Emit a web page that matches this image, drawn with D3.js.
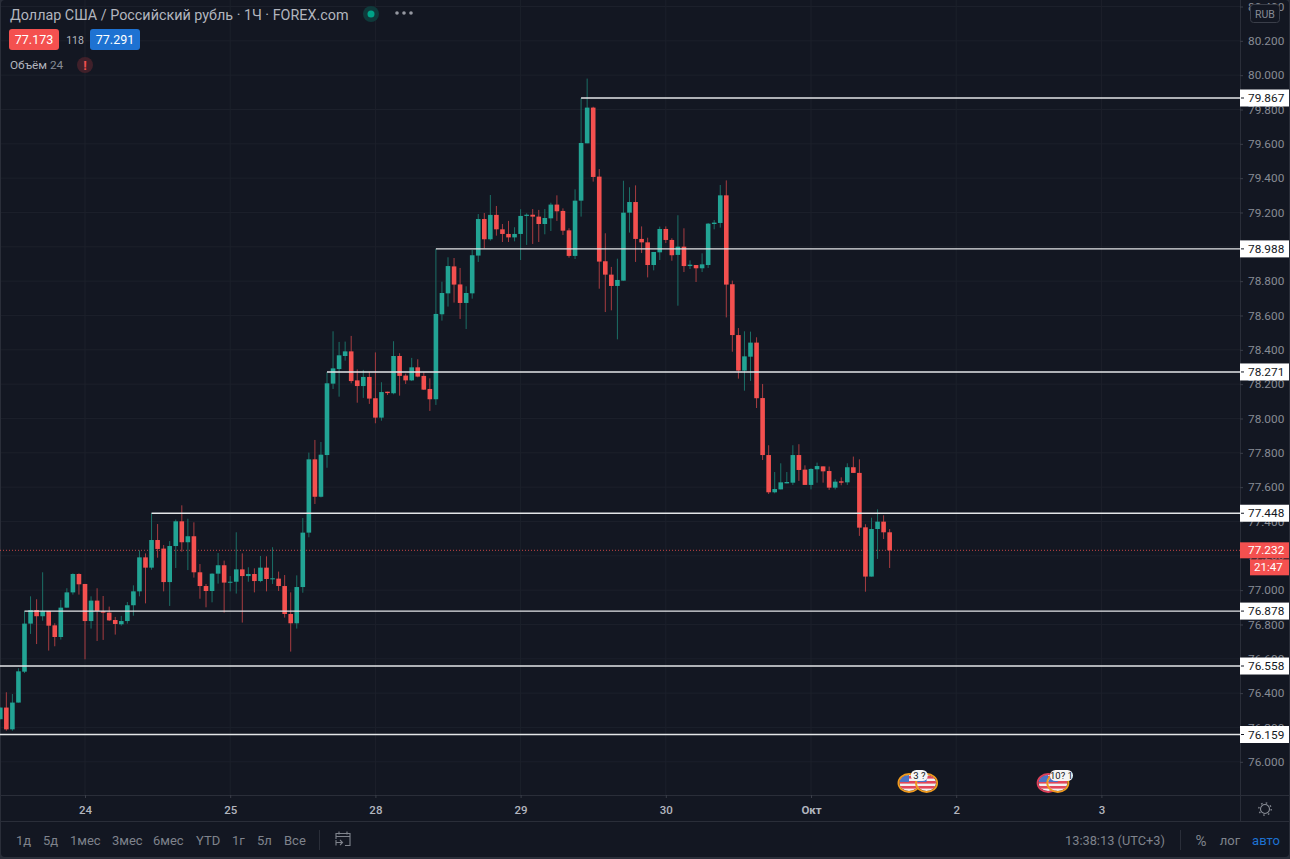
<!DOCTYPE html>
<html lang="ru">
<head>
<meta charset="utf-8">
<title>USD/RUB 1H</title>
<script src="https://cdn.jsdelivr.net/npm/d3@7/dist/d3.min.js"></script>
<style>
html,body{margin:0;padding:0;background:#2a2e39;overflow:hidden}
svg{display:block}
text{font-family:Roboto,"Noto Sans",sans-serif}
</style>
</head>
<body>
<svg id="chart" width="1290" height="859"></svg>
<script>
// Hourly candles, oldest first; the first bar sits 14 hours before the "24" session tick.
const firstBar = -14;
const opens = [
76.248,76.316,76.189,76.345,76.525,76.805,76.884,76.848,76.879,76.795,76.727,76.898,76.987,77.094,
77.036,76.820,76.939,76.877,76.869,76.826,76.801,76.820,76.912,76.993,77.191,77.131,77.292,77.242,
77.047,77.257,77.401,77.279,77.314,77.104,77.024,76.995,77.096,77.145,77.044,77.049,77.121,77.082,
77.094,77.053,77.131,77.063,77.067,77.024,76.861,76.807,77.018,77.335,77.762,77.544,77.787,78.203,
78.288,78.364,78.391,78.222,78.189,78.242,78.118,78.005,78.156,78.147,78.364,78.250,78.222,78.298,
78.248,78.172,78.112,78.607,78.729,78.886,78.781,78.673,78.729,78.949,79.162,79.044,79.186,79.102,
79.075,79.055,79.075,79.180,79.187,79.176,79.133,79.166,79.246,79.209,79.096,78.947,79.269,79.603,
79.811,79.409,78.916,78.838,78.772,78.803,79.199,79.261,79.046,79.026,78.894,78.968,79.104,79.040,
78.953,79.001,78.888,78.894,78.875,78.894,79.133,79.139,79.300,78.782,78.486,78.279,78.360,78.442,
78.119,77.787,77.570,77.587,77.622,77.626,77.787,77.702,77.613,77.704,77.721,77.694,77.597,77.634,
77.628,77.716,77.683,77.366,77.079,77.356,77.399,77.337];
const closes = [
76.316,76.189,76.345,76.527,76.805,76.884,76.848,76.879,76.793,76.727,76.898,76.987,77.094,77.034,
76.820,76.939,76.879,76.869,76.824,76.803,76.820,76.912,76.993,77.191,77.131,77.292,77.240,77.047,
77.257,77.401,77.279,77.314,77.104,77.024,76.995,77.096,77.145,77.044,77.049,77.121,77.082,77.094,
77.053,77.131,77.065,77.069,77.024,76.861,76.807,77.018,77.335,77.762,77.544,77.789,78.205,78.292,
78.368,78.391,78.218,78.189,78.242,78.116,78.005,78.154,78.148,78.364,78.248,78.222,78.298,78.244,
78.168,78.112,78.609,78.731,78.888,78.780,78.673,78.731,78.951,79.162,79.044,79.186,79.102,79.075,
79.055,79.075,79.180,79.187,79.176,79.133,79.168,79.246,79.207,79.094,78.947,79.269,79.605,79.811,
79.407,78.914,78.838,78.772,78.807,79.199,79.261,79.046,79.026,78.894,78.970,79.104,79.040,78.951,
79.001,78.888,78.896,78.875,78.898,79.135,79.141,79.300,78.780,78.486,78.279,78.362,78.442,78.118,
77.787,77.570,77.589,77.628,77.630,77.787,77.700,77.613,77.706,77.723,77.692,77.597,77.632,77.626,
77.716,77.683,77.364,77.079,77.356,77.399,77.337,77.232];
const highs = [
76.316,76.405,76.395,76.545,76.878,76.964,76.947,77.104,76.879,76.807,76.943,77.011,77.098,77.098,
77.036,76.964,77.011,76.966,76.904,76.844,76.850,76.931,77.028,77.232,77.214,77.448,77.385,77.263,
77.286,77.411,77.494,77.416,77.395,77.152,77.036,77.098,77.216,77.172,77.082,77.337,77.214,77.133,
77.127,77.199,77.197,77.250,77.108,77.088,76.987,77.086,77.420,77.801,77.875,77.863,78.271,78.508,
78.446,78.448,78.481,78.286,78.283,78.271,78.385,78.211,78.156,78.450,78.380,78.261,78.353,78.345,
78.269,78.234,78.988,78.797,78.939,78.935,78.877,78.770,78.982,79.191,79.197,79.302,79.238,79.133,
79.151,79.114,79.219,79.195,79.220,79.215,79.220,79.257,79.300,79.224,79.108,79.335,79.867,79.980,
79.816,79.453,79.079,78.883,78.931,79.385,79.347,79.358,79.119,79.053,78.970,79.118,79.119,79.050,
79.184,79.108,78.921,78.894,78.962,79.139,79.156,79.360,79.387,78.803,78.527,78.508,78.506,78.473,
78.201,77.844,77.688,77.739,77.688,77.844,77.850,77.727,77.710,77.743,77.721,77.720,77.646,77.657,
77.739,77.778,77.762,77.384,77.422,77.471,77.436,77.356];
const lows = [
76.248,76.181,76.181,76.345,76.517,76.745,76.686,76.822,76.648,76.673,76.712,76.898,76.974,76.974,
76.597,76.776,76.704,76.710,76.820,76.741,76.793,76.805,76.851,76.964,76.923,77.119,77.189,76.993,
76.908,77.129,77.224,77.117,77.073,76.950,76.900,76.929,77.038,76.869,76.993,76.980,76.811,77.049,
76.987,77.046,76.993,77.036,76.995,76.840,76.642,76.776,76.985,77.308,77.502,77.540,77.713,78.172,
78.127,78.337,78.205,78.092,78.120,78.085,77.972,77.987,78.137,78.141,78.133,78.201,78.218,78.240,
78.166,78.044,78.079,78.570,78.652,78.675,78.580,78.521,78.698,78.912,78.991,79.036,79.065,79.028,
79.028,79.032,78.923,79.011,79.017,79.028,79.073,79.092,79.151,79.069,78.937,78.929,79.176,79.603,
79.380,78.756,78.620,78.630,78.461,78.803,79.083,78.912,78.964,78.822,78.863,78.923,79.022,78.919,
78.657,78.853,78.871,78.795,78.853,78.877,79.102,79.112,78.589,78.389,78.232,78.162,78.219,78.061,
77.758,77.560,77.564,77.587,77.622,77.613,77.636,77.613,77.587,77.626,77.626,77.584,77.587,77.611,
77.613,77.683,77.316,76.991,77.079,77.182,77.298,77.129];

// Support and resistance levels drawn by hand; null start means the line runs from the left edge.
const levelPrices = [79.867, 78.988, 78.271, 77.448, 76.878, 76.558, 76.159];
const levelStartBars = [82, 58, 40, 11, -10, null, null];
const lastPrice = 77.232;

const priceTicks = [76,76.2,76.4,76.6,76.8,77,77.2,77.4,77.6,77.8,78,78.2,78.4,78.6,78.8,79,79.2,79.4,79.6,79.8,80,80.2,80.4];
const dayTickBars = [0,24,48,72,96,120,144,168];
const dayTickLabels = ["24","25","28","29","30","Окт","2","3"];
const rangeButtons = ["1д","5д","1мес","3мес","6мес","YTD","1г","5л","Все"];
const rangeButtonX = [16,43,70,112,153,196,232,257,284];

// Economic calendar markers under the candles.
const eventBars = [136.2, 139.1, 159.2, 160.8];
const eventRings = ["#f09a1e","#f09a1e","#e0405a","#f09a1e"];
const eventBubbles = [{bar:137.9,text:"3 ?"},{bar:161.4,text:"10? 1"}];

const C = {bg:"#131722",grid:"#1c202b",rule:"#2a2e39",axis:"#878b94",label:"#b2b5be",foot:"#7f838c",
           up:"#22a494",down:"#f4504f",upWick:"#1b6f66",downWick:"#a73c40",blue:"#1e72d2"};

const plotW = 1240, plotH = 795, footH = 821;
const svg = d3.select("#chart");

const x = d3.scaleLinear().domain([0,24]).range([85,230.2]);
const y = d3.scaleLinear().domain([76,80]).range([761.8,75.17]);

svg.append("rect").attr("x",1).attr("y",0).attr("width",1288).attr("height",857).attr("rx",4).attr("fill",C.bg);

svg.append("defs").append("clipPath").attr("id","plot")
  .append("rect").attr("width",plotW).attr("height",plotH);

// Grid
const grid = svg.append("g");
grid.selectAll("line.h").data(priceTicks).join("line").attr("class","h")
  .attr("x1",1).attr("x2",plotW).attr("y1",d=>y(d)).attr("y2",d=>y(d)).attr("stroke",C.grid);
grid.selectAll("line.v").data(dayTickBars).join("line").attr("class","v")
  .attr("x1",d=>x(d)).attr("x2",d=>x(d)).attr("y1",0).attr("y2",plotH).attr("stroke",C.grid);

// Frame rules
svg.append("line").attr("x1",plotW+.5).attr("x2",plotW+.5).attr("y1",0).attr("y2",footH).attr("stroke",C.rule);
svg.append("line").attr("x1",1).attr("x2",1289).attr("y1",plotH+.5).attr("y2",plotH+.5).attr("stroke",C.rule);
svg.append("line").attr("x1",1).attr("x2",1289).attr("y1",footH+.5).attr("y2",footH+.5).attr("stroke",C.rule);

// Price axis
const yAxis = d3.axisRight(y).tickValues(priceTicks).tickFormat(d3.format(".3f")).tickSize(3).tickPadding(5);
const yg = svg.append("g").attr("transform",`translate(${plotW},0)`).call(yAxis);
yg.select(".domain").remove();
yg.selectAll("line").attr("stroke","#3a3e49");
yg.selectAll("text").attr("fill",C.axis).attr("font-size",11.8);

// Time axis
const xAxis = d3.axisBottom(x).tickValues(dayTickBars)
  .tickFormat((d,i)=>dayTickLabels[i]).tickSize(3).tickPadding(8);
const xg = svg.append("g").attr("transform",`translate(0,${plotH})`).call(xAxis);
xg.select(".domain").remove();
xg.selectAll("line").attr("stroke","#3a3e49");
xg.selectAll("text").attr("fill",C.label).attr("font-size",11.5).attr("font-weight",(d,i)=>dayTickLabels[i]==="Окт"?700:500);

// Candles
const bars = d3.range(opens.length).map(i=>({bar:firstBar+i,o:opens[i],h:highs[i],l:lows[i],c:closes[i]}));
const plot = svg.append("g").attr("clip-path","url(#plot)");
plot.append("line").attr("x1",0).attr("x2",plotW).attr("y1",y(lastPrice)).attr("y2",y(lastPrice))
  .attr("stroke",C.down).attr("stroke-opacity",.8).attr("stroke-dasharray","1 2");
const candle = plot.selectAll("g.c").data(bars).join("g").attr("class","c");
candle.append("line")
  .attr("x1",d=>x(d.bar)).attr("x2",d=>x(d.bar)).attr("y1",d=>y(d.h)).attr("y2",d=>y(d.l))
  .attr("stroke",d=>d.c<d.o?C.downWick:C.upWick);
candle.append("rect")
  .attr("x",d=>x(d.bar)-2.3).attr("width",4.6)
  .attr("y",d=>y(Math.max(d.o,d.c)))
  .attr("height",d=>Math.max(1,Math.abs(y(d.o)-y(d.c))))
  .attr("fill",d=>d.c<d.o?C.down:C.up);

// Level lines
plot.selectAll("line.level").data(levelPrices).join("line").attr("class","level")
  .attr("x1",(d,i)=>levelStartBars[i]===null?0:x(levelStartBars[i]))
  .attr("x2",plotW).attr("y1",d=>y(d)).attr("y2",d=>y(d))
  .attr("stroke","#e4e6e8").attr("stroke-width",1.4);

// Price tags for the levels
const tags = svg.selectAll("g.tag").data(levelPrices).join("g").attr("class","tag")
  .attr("transform",d=>`translate(${plotW},${y(d)})`);
tags.append("rect").attr("y",-8.5).attr("width",49).attr("height",17).attr("fill","#ffffff");
tags.append("line").attr("x1",1).attr("x2",4).attr("stroke","#131722");
tags.append("text").attr("x",8).attr("dy","0.35em").attr("fill","#131722").attr("font-size",11.8)
  .text(d3.format(".3f"));

// Last price tag with the bar countdown below it
const lastTag = svg.append("g").attr("transform",`translate(${plotW},${y(lastPrice)})`);
lastTag.append("rect").attr("y",-8).attr("width",49).attr("height",16).attr("fill",C.down);
lastTag.append("text").attr("x",8).attr("dy","0.35em").attr("fill","#fff").attr("font-size",11.8).text(d3.format(".3f")(lastPrice));
lastTag.append("rect").attr("x",10).attr("y",9).attr("width",39).attr("height",16).attr("fill",C.down);
lastTag.append("text").attr("x",14).attr("y",17).attr("dy","0.35em").attr("fill","#fff").attr("font-size",11.5).text("21:47");

// Currency badge
svg.append("rect").attr("x",1250.5).attr("y",4.5).attr("width",29).attr("height",18).attr("rx",3)
  .attr("fill",C.bg).attr("stroke","#3a3e49");
svg.append("text").attr("x",1265).attr("y",18).attr("text-anchor","middle").attr("fill",C.axis).attr("font-size",10.5).text("RUB");

// Calendar markers
const defs = svg.select("defs");
const eventY = 783;
const ev = svg.append("g");
eventBars.forEach((b,i)=>{
  const cx = x(b);
  defs.append("clipPath").attr("id","flag"+i).append("ellipse").attr("cx",cx).attr("cy",eventY).attr("rx",9.5).attr("ry",8);
  const g = ev.append("g");
  const fl = g.append("g").attr("clip-path",`url(#flag${i})`);
  fl.append("rect").attr("x",cx-10).attr("y",eventY-10).attr("width",20).attr("height",20).attr("fill","#f2f2f2");
  [-6,-1,4].forEach(o=>fl.append("rect").attr("x",cx-10).attr("y",eventY+o-1).attr("width",20).attr("height",2.6).attr("fill","#e2475a"));
  fl.append("rect").attr("x",cx-10).attr("y",eventY-10).attr("width",10).attr("height",9).attr("fill","#4a74c8");
  g.append("ellipse").attr("cx",cx).attr("cy",eventY).attr("rx",10.6).attr("ry",9).attr("fill","none").attr("stroke",eventRings[i]).attr("stroke-width",1.8);
});
eventBubbles.forEach(e=>{
  const cx = x(e.bar), w = e.text.length>3?23:17;
  ev.append("rect").attr("x",cx-w/2).attr("y",770).attr("width",w).attr("height",11).attr("rx",5.5).attr("fill","#f4f4f4");
  ev.append("text").attr("x",cx).attr("y",779).attr("text-anchor","middle").attr("fill","#131722").attr("font-size",9.5).text(e.text);
});

// Legend block
const title = svg.append("g");
title.append("text").attr("x",10).attr("y",19.5).attr("fill",C.label).attr("font-size",14.35)
  .attr("font-family","'Noto Sans',sans-serif").text("Доллар США / Российский рубль · 1Ч · FOREX.com");
title.append("circle").attr("cx",371).attr("cy",14).attr("r",8).attr("fill","#0f3a3b");
title.append("circle").attr("cx",371).attr("cy",14).attr("r",3.5).attr("fill","#00a388");
[397,404,411].forEach(cx=>title.append("circle").attr("cx",cx).attr("cy",13).attr("r",1.8).attr("fill","#9598a1"));
title.append("rect").attr("x",9).attr("y",29).attr("width",50).attr("height",21).attr("rx",3).attr("fill",C.down);
title.append("text").attr("x",34).attr("y",44).attr("text-anchor","middle").attr("fill","#fff").attr("font-size",12.5).text("77.173");
title.append("text").attr("x",75).attr("y",44).attr("text-anchor","middle").attr("fill",C.label).attr("font-size",10.5).text("118");
title.append("rect").attr("x",90).attr("y",29).attr("width",50).attr("height",21).attr("rx",3).attr("fill",C.blue);
title.append("text").attr("x",115).attr("y",44).attr("text-anchor","middle").attr("fill","#fff").attr("font-size",12.5).text("77.291");
title.append("text").attr("x",10).attr("y",69).attr("fill",C.label).attr("font-size",11.8).attr("font-family","'Noto Sans',sans-serif")
  .text("Объём ").append("tspan").attr("fill",C.axis).text("24");
title.append("circle").attr("cx",85).attr("cy",65).attr("r",8).attr("fill","#40202a");
title.append("text").attr("x",85).attr("y",70).attr("text-anchor","middle").attr("fill",C.down).attr("font-size",13).attr("font-weight",700).text("!");

// Footer: range buttons, calendar, clock and scale switches
const foot = svg.append("g").attr("font-size",13).attr("fill",C.foot);
foot.selectAll("text.range").data(rangeButtons).join("text").attr("class","range")
  .attr("x",(d,i)=>rangeButtonX[i]).attr("y",845).text(d=>d);
foot.append("line").attr("x1",319.5).attr("x2",319.5).attr("y1",830).attr("y2",850).attr("stroke",C.rule);
foot.append("path").attr("fill","none").attr("stroke",C.foot).attr("stroke-width",1.1)
  .attr("d","M336 839v-5.5h14v12h-5M336 836.5h14M339 831.5v3M347 831.5v3M336 842.5h6M340 840l2.5 2.5l-2.5 2.5M336 840v5.5");
foot.append("text").attr("x",1065).attr("y",845).attr("font-size",12.8).text("13:38:13 (UTC+3)");
foot.append("line").attr("x1",1180.5).attr("x2",1180.5).attr("y1",830).attr("y2",850).attr("stroke",C.rule);
foot.append("text").attr("x",1201).attr("y",845.5).attr("text-anchor","middle").attr("font-size",15).text("%");
foot.append("text").attr("x",1230).attr("y",845).attr("text-anchor","middle").text("лог");
foot.append("text").attr("x",1266).attr("y",845).attr("text-anchor","middle").attr("fill",C.blue).text("авто");

// Scale settings gear
const gear = svg.append("g").attr("transform","translate(1265,809)").attr("fill","none").attr("stroke","#878b94");
gear.append("circle").attr("r",4.5).attr("stroke-width",1.1);
gear.append("circle").attr("r",6.2).attr("stroke-width",1.3).attr("stroke-dasharray","1.6 3.27");
</script>
</body>
</html>
